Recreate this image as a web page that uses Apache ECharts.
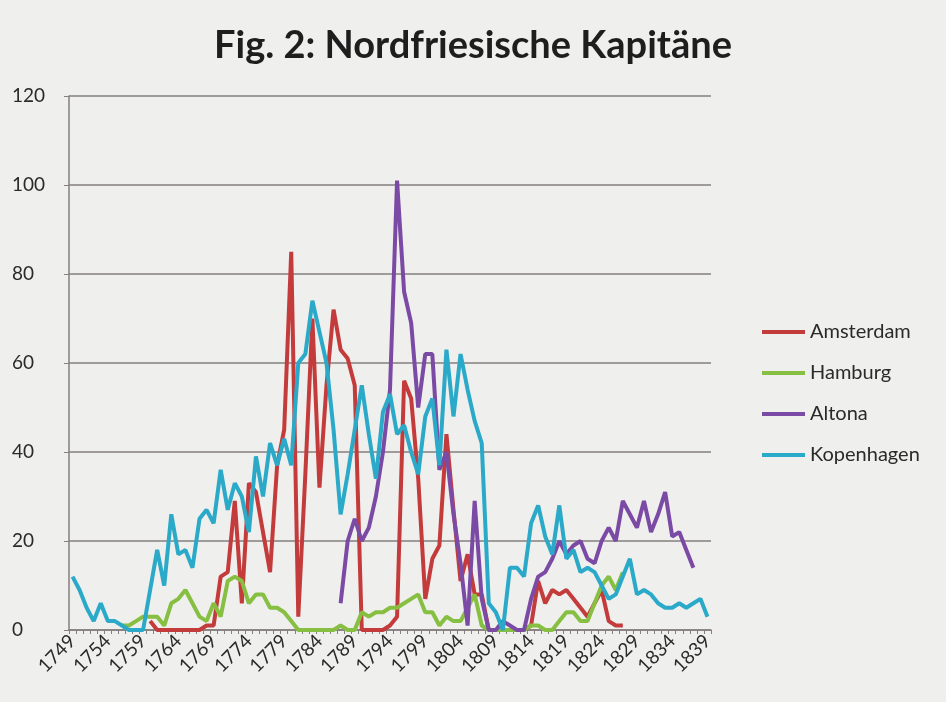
<!DOCTYPE html>
<html>
<head>
<meta charset="utf-8">
<script src="https://cdn.jsdelivr.net/npm/echarts@6/dist/echarts.min.js"></script>
<style>
  html, body { margin: 0; padding: 0; background: #efefed; }
  #chart { width: 946px; height: 702px; }
</style>
</head>
<body>
<div id="chart"></div>
<script>
// years 1749..1839, one value per year (null = no data)
const years = [];
for (let y = 1749; y <= 1839; y++) years.push(String(y));

const amsterdam = [
  null, null, null, null, null, null, null, null, null, null,
  null, 2, 0, 0, 0, 0, 0, 0, 0, 1,
  1, 12, 13, 29, 6, 33, 31, 22, 13, 37,
  45, 85, 3, 35, 70, 32, 55, 72, 63, 61,
  55, 0, 0, 0, 0, 1, 3, 56, 52, 34,
  7, 16, 19, 44, 27, 11, 17, 8, 8, 0,
  0, 0, 0, 0, 0, 1, 11, 6, 9, 8,
  9, 7, 5, 3, 6, 9, 2, 1, 1, null,
  null, null, null, null, null, null, null, null, null, null,
  null
];

const hamburg = [
  null, null, null, null, null, null, null, 1, 1, 2,
  3, 3, 3, 1, 6, 7, 9, 6, 3, 2,
  6, 3, 11, 12, 11, 6, 8, 8, 5, 5,
  4, 2, 0, 0, 0, 0, 0, 0, 1, 0,
  0, 4, 3, 4, 4, 5, 5, 6, 7, 8,
  4, 4, 1, 3, 2, 2, 5, 8, 1, 0,
  0, 0, 0, 0, 0, 1, 1, 0, 0, 2,
  4, 4, 2, 2, 6, 10, 12, 9, 13, null,
  null, null, null, null, null, null, null, null, null, null,
  null
];

const altona = [
  null, null, null, null, null, null, null, null, null, null,
  null, null, null, null, null, null, null, null, null, null,
  null, null, null, null, null, null, null, null, null, null,
  null, null, null, null, null, null, null, null, 6, 20,
  25, 20, 23, 30, 40, 54, 101, 76, 69, 50,
  62, 62, 36, 40, 26, 15, 1, 29, 7, 0,
  0, 2, 1, 0, 0, 7, 12, 13, 16, 20,
  17, 19, 20, 16, 15, 20, 23, 20, 29, 26,
  23, 29, 22, 26, 31, 21, 22, 18, 14, null,
  null
];

const kopenhagen = [
  12, 9, 5, 2, 6, 2, 2, 1, 0, 0,
  0, 9, 18, 10, 26, 17, 18, 14, 25, 27,
  24, 36, 27, 33, 30, 22, 39, 30, 42, 37,
  43, 37, 60, 62, 74, 67, 60, 45, 26, 35,
  45, 55, 44, 34, 49, 53, 44, 46, 40, 35,
  48, 52, 37, 63, 48, 62, 54, 47, 42, 6,
  4, 0, 14, 14, 12, 24, 28, 21, 17, 28,
  16, 18, 13, 14, 13, 10, 7, 8, 12, 16,
  8, 9, 8, 6, 5, 5, 6, 5, 6, 7,
  3
];

const font = 'Lato, "Open Sans", sans-serif';
const axisGrey = '#857f7f';

const chart = echarts.init(document.getElementById('chart'), null, { renderer: 'canvas' });

function line(name, data, color) {
  return {
    name: name,
    type: 'line',
    data: data,
    symbol: 'none',
    connectNulls: false,
    lineStyle: { width: 4, color: color },
    itemStyle: { color: color },
    emphasis: { disabled: true },
    animation: false
  };
}

const option = {
  backgroundColor: '#efefed',
  textStyle: { fontFamily: font },
  title: {
    text: 'Fig. 2: Nordfriesische Kapitäne',
    left: 'center',
    top: 22,
    textStyle: { fontFamily: font, fontSize: 38, fontWeight: 'bold', color: '#1e1e1e' }
  },
  legend: {
    orient: 'vertical',
    left: 757,
    top: 317,
    itemGap: 21,
    itemWidth: 43,
    itemHeight: 4,
    icon: 'rect',
    textStyle: { fontFamily: font, fontSize: 20, color: '#2a2a2a' },
    data: ['Amsterdam', 'Hamburg', 'Altona', 'Kopenhagen']
  },
  grid: { left: 69, right: 235, top: 96, bottom: 72 },
  xAxis: {
    type: 'category',
    data: years,
    boundaryGap: true,
    axisLine: { lineStyle: { color: axisGrey, width: 1.5 } },
    axisTick: { show: true, interval: 0, length: 4, lineStyle: { color: axisGrey } },
    axisLabel: {
      interval: 4,
      rotate: 45,
      margin: 8,
      fontFamily: font,
      fontSize: 19,
      color: '#2a2a2a'
    },
    splitLine: { show: false }
  },
  yAxis: {
    type: 'value',
    min: 0,
    max: 120,
    interval: 20,
    axisLine: { show: true, lineStyle: { color: axisGrey, width: 1.5 } },
    axisTick: { show: true, length: 5, lineStyle: { color: axisGrey } },
    axisLabel: { fontFamily: font, fontSize: 19, color: '#2a2a2a', margin: 57, align: 'left' },
    splitLine: { lineStyle: { color: axisGrey, width: 1.5 } }
  },
  series: [
    line('Amsterdam', amsterdam, '#c43b3b'),
    line('Hamburg', hamburg, '#86bf41'),
    line('Altona', altona, '#7b4aa5'),
    line('Kopenhagen', kopenhagen, '#2aa9c9')
  ]
};

chart.setOption(option);
</script>
</body>
</html>
